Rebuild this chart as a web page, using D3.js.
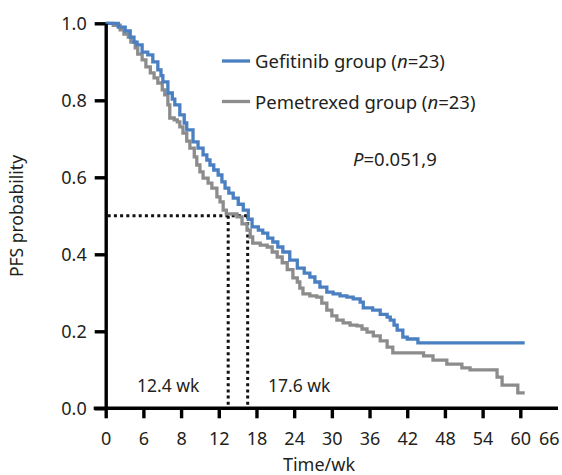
<!DOCTYPE html>
<html>
<head>
<meta charset="utf-8">
<script src="https://cdn.jsdelivr.net/npm/d3@7/dist/d3.min.js"></script>
<style>
  html, body { margin: 0; padding: 0; background: #fff; }
  svg { display: block; }
  text { font-family: "Noto Sans", "Open Sans", sans-serif; fill: #231f20; }
</style>
</head>
<body>
<svg id="chart" width="562" height="475"></svg>
<script>
// ---- data (x in axis units: each labelled tick is 6 units apart) ----
const gefTimes = [0, 2.0, 3.1, 3.9, 4.5, 5.0, 5.8, 6.7, 7.5, 8.3, 8.8, 9.1, 9.9, 10.6, 11.0, 11.8, 12.5, 12.9, 13.9, 14.7, 15.5, 16.1, 16.6, 17.2, 17.9, 18.5, 19.0, 19.6, 20.3, 21.1, 21.9, 22.7, 23.3, 24.3, 25.0, 25.8, 26.6, 27.4, 28.2, 29.3, 30.5, 31.6, 32.5, 33.3, 34.1, 35.2, 36.2, 37.3, 38.4, 39.4, 40.5, 41.0, 42.5, 43.7, 44.8, 45.3, 45.9, 46.4, 47.3, 48.0, 49.7, 66.7];
const gefSurv  = [1.0, 0.990, 0.980, 0.964, 0.951, 0.944, 0.925, 0.918, 0.900, 0.879, 0.864, 0.848, 0.819, 0.803, 0.788, 0.762, 0.741, 0.723, 0.692, 0.676, 0.658, 0.645, 0.632, 0.619, 0.606, 0.588, 0.572, 0.559, 0.546, 0.530, 0.515, 0.491, 0.471, 0.463, 0.455, 0.442, 0.432, 0.419, 0.406, 0.385, 0.364, 0.351, 0.341, 0.328, 0.315, 0.302, 0.297, 0.292, 0.289, 0.284, 0.276, 0.261, 0.255, 0.244, 0.237, 0.229, 0.216, 0.203, 0.185, 0.180, 0.170, 0.170];

const pemTimes = [0, 1.2, 2.3, 2.9, 3.6, 4.0, 4.7, 5.1, 5.8, 6.4, 7.1, 7.7, 8.3, 9.0, 9.4, 9.9, 10.2, 10.9, 11.4, 11.8, 12.3, 12.9, 13.4, 14.1, 14.5, 15.0, 15.5, 16.3, 16.9, 17.7, 18.2, 18.7, 19.2, 20.9, 21.7, 22.5, 23.0, 23.4, 24.6, 25.7, 26.5, 27.3, 28.1, 28.9, 29.8, 30.5, 30.9, 31.4, 32.5, 33.6, 34.4, 35.2, 36.0, 36.8, 37.8, 38.9, 40.0, 40.8, 41.6, 42.6, 43.7, 44.8, 45.7, 50.6, 52.1, 54.3, 56.7, 58.0, 62.3, 63.1, 65.6, 66.7];
const pemSurv  = [1.0, 0.995, 0.983, 0.972, 0.964, 0.951, 0.936, 0.920, 0.905, 0.887, 0.871, 0.858, 0.845, 0.827, 0.814, 0.788, 0.754, 0.749, 0.744, 0.731, 0.715, 0.694, 0.676, 0.653, 0.632, 0.614, 0.598, 0.585, 0.572, 0.549, 0.536, 0.515, 0.505, 0.497, 0.479, 0.463, 0.445, 0.429, 0.424, 0.419, 0.406, 0.393, 0.378, 0.360, 0.339, 0.328, 0.312, 0.297, 0.292, 0.289, 0.273, 0.255, 0.240, 0.229, 0.222, 0.216, 0.214, 0.206, 0.198, 0.188, 0.175, 0.159, 0.144, 0.136, 0.125, 0.115, 0.105, 0.100, 0.081, 0.060, 0.040, 0.040];

const seriesNames = ["Gefitinib group", "Pemetrexed group"];
const seriesN = [23, 23];
const xTickLabels = ["0", "6", "8", "12", "18", "24", "30", "36", "42", "48", "54", "60"];
const xExtraLabel = "66";
const yTicks = [0, 0.2, 0.4, 0.6, 0.8, 1.0];
const medianPos = [19.5, 22.6];          // axis units where the dotted lines fall
const medianLabels = ["12.4 wk", "17.6 wk"];
const pText = "0.051,9";

// ---- layout ----
const svg = d3.select("#chart");
const x = d3.scaleLinear().domain([0, 72]).range([105.7, 558]);
const y = d3.scaleLinear().domain([0, 1]).range([408.3, 23.3]);
const colors = ["#4a7fc1", "#8c8c8c"];

// median dotted lines
const dotted = svg.append("g").attr("stroke", "#111").attr("stroke-width", 3)
  .attr("stroke-dasharray", "3,3.2").attr("fill", "none");
dotted.append("line").attr("x1", x(0) + 2).attr("x2", x(medianPos[1])).attr("y1", y(0.5)).attr("y2", y(0.5));
medianPos.forEach(m => {
  dotted.append("line").attr("x1", x(m)).attr("x2", x(m)).attr("y1", y(0.5)).attr("y2", y(0) - 2);
});

// curves
const line = d3.line().x(d => x(d[0])).y(d => y(d[1])).curve(d3.curveStepAfter);
const gefData = gefTimes.map((t, i) => [t, gefSurv[i]]);
const pemData = pemTimes.map((t, i) => [t, pemSurv[i]]);
[pemData, gefData].forEach((data, k) => {
  svg.append("path").datum(data)
    .attr("d", line).attr("fill", "none")
    .attr("stroke", k === 0 ? colors[1] : colors[0])
    .attr("stroke-width", 3.3).attr("stroke-linejoin", "miter");
});

// axes
const xAxis = d3.axisBottom(x)
  .tickValues(xTickLabels.map((_, i) => i * 6))
  .tickFormat((d, i) => xTickLabels[i])
  .tickSize(10).tickSizeOuter(0).tickPadding(14);
const gx = svg.append("g").attr("transform", `translate(0,${y(0)})`).call(xAxis);
gx.select(".domain").attr("d", `M${x(0) - 12},0H${x(72)}`);

const yAxis = d3.axisLeft(y).tickValues(yTicks).tickFormat(d3.format(".1f"))
  .tickSize(11).tickSizeOuter(0).tickPadding(8);
const gy = svg.append("g").attr("transform", `translate(${x(0)},0)`).call(yAxis);

[gx, gy].forEach(g => {
  g.selectAll(".domain").attr("stroke", "#000").attr("stroke-width", 3.4);
  g.selectAll(".tick line").attr("stroke", "#000").attr("stroke-width", 3.4);
  g.selectAll(".tick text").attr("font-size", 18).attr("fill", "#231f20")
    .style("font-family", '"Noto Sans", sans-serif');
});
gx.append("text").attr("x", x(70.6)).attr("y", 24).attr("dy", "0.71em")
  .attr("text-anchor", "middle").attr("font-size", 18).attr("fill", "#231f20").text(xExtraLabel);

// axis titles
svg.append("text").attr("x", 319).attr("y", 471).attr("text-anchor", "middle")
  .attr("font-size", 18).text("Time/wk");
svg.append("text").attr("transform", "translate(23,216) rotate(-90)")
  .attr("text-anchor", "middle").attr("font-size", 17.5).text("PFS probability");

// legend
const legY = [61, 101.5];
seriesNames.forEach((name, i) => {
  svg.append("line").attr("x1", 222).attr("x2", 250).attr("y1", legY[i]).attr("y2", legY[i])
    .attr("stroke", colors[i]).attr("stroke-width", 3.3);
  const t = svg.append("text").attr("x", 255).attr("y", legY[i] + 7).attr("font-size", 18.5);
  t.append("tspan").text(name + " (");
  t.append("tspan").attr("font-style", "italic").text("n");
  t.append("tspan").text("=" + seriesN[i] + ")");
});

// p-value
const pt = svg.append("text").attr("x", 353).attr("y", 166).attr("font-size", 18.5);
pt.append("tspan").attr("font-style", "italic").text("P");
pt.append("tspan").text("=" + pText);

// median labels
svg.append("text").attr("x", 137).attr("y", 392).attr("font-size", 17.5).text(medianLabels[0]);
svg.append("text").attr("x", 268).attr("y", 392).attr("font-size", 17.5).text(medianLabels[1]);
</script>
</body>
</html>
